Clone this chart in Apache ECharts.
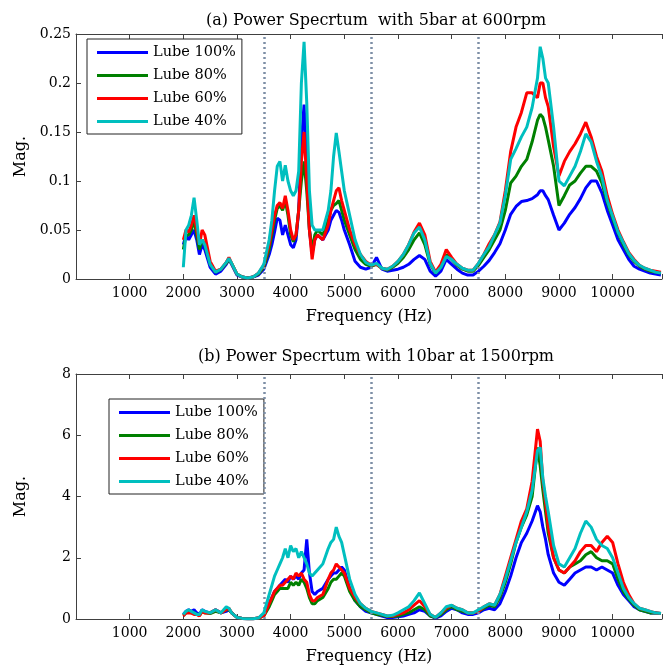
<!DOCTYPE html>
<html><head><meta charset="utf-8">
<script src="https://cdn.jsdelivr.net/npm/echarts@6/dist/echarts.min.js"></script>
<style>html,body{margin:0;padding:0;background:#fff}#c{width:665px;height:670px}</style>
</head><body><div id="c"></div>
<script>
const freq = [2000,2050,2100,2150,2200,2250,2300,2350,2400,
 2500,2600,2700,2800,2850,2900,
 3000,3100,3200,3300,3400,3500,
 3600,3650,3700,3750,3800,3850,3900,3950,4000,4050,4100,4150,4200,4250,4300,4350,4400,4450,4500,
 4600,4700,
 4750,4800,4850,4900,4950,5000,
 5100,5200,5300,5400,5500,5600,5700,5800,5900,6000,
 6100,6200,6300,6400,6500,6600,6700,6800,6900,7000,
 7100,7200,7300,7400,7500,7600,7700,7800,7900,8000,
 8100,8200,8300,8400,8500,8600,
 8650,8700,8750,8800,
 8900,9000,
 9100,9200,9300,9400,9500,9600,9700,9800,9900,10000,
 10100,10200,10300,10400,10500,10600,10700,10800,10900];

const seriesNames = ['Lube 100%','Lube 80%','Lube 60%','Lube 40%'];
const xTicks = [1000,2000,3000,4000,5000,6000,7000,8000,9000,10000];
const markFreqs = [3500,5500,7500];

// (a) 5bar at 600rpm
const a100 = [0.035,0.045,0.04,0.045,0.05,0.04,0.025,0.035,0.03,
 0.012,0.005,0.008,0.015,0.02,0.015,
 0.004,0.002,0.001,0.002,0.004,0.01,
 0.025,0.035,0.048,0.062,0.06,0.045,0.055,0.045,0.035,0.032,0.04,0.07,0.14,0.178,0.12,0.05,0.026,0.04,0.045,
 0.04,0.05,
 0.06,0.065,0.07,0.068,0.06,0.05,
 0.035,0.018,0.012,0.01,0.012,0.022,0.01,0.008,0.009,0.01,
 0.012,0.015,0.02,0.024,0.02,0.008,0.003,0.008,0.02,0.015,
 0.01,0.006,0.004,0.004,0.008,0.013,0.019,0.027,0.036,0.05,
 0.066,0.074,0.079,0.08,0.082,0.086,
 0.09,0.09,0.085,0.081,
 0.065,0.05,
 0.057,0.066,0.073,0.082,0.093,0.1,0.1,0.088,0.07,0.055,
 0.04,0.03,0.02,0.013,0.01,0.008,0.006,0.005,0.004];
const a80 = [0.03,0.045,0.045,0.05,0.06,0.045,0.03,0.04,0.035,
 0.015,0.007,0.01,0.016,0.02,0.016,
 0.005,0.002,0.001,0.002,0.005,0.012,
 0.03,0.045,0.06,0.072,0.075,0.07,0.08,0.065,0.045,0.038,0.045,0.07,0.1,0.12,0.09,0.05,0.03,0.045,0.05,
 0.045,0.06,
 0.07,0.075,0.077,0.08,0.07,0.06,
 0.045,0.03,0.02,0.015,0.013,0.015,0.011,0.009,0.012,0.016,
 0.022,0.03,0.04,0.047,0.035,0.015,0.006,0.012,0.025,0.02,
 0.014,0.01,0.008,0.008,0.014,0.022,0.03,0.04,0.05,0.07,
 0.098,0.105,0.115,0.122,0.14,0.162,
 0.168,0.165,0.155,0.142,
 0.115,0.075,
 0.085,0.096,0.1,0.108,0.115,0.115,0.11,0.098,0.078,0.062,
 0.047,0.035,0.025,0.018,0.013,0.01,0.008,0.007,0.006];
const a60 = [0.04,0.05,0.048,0.055,0.065,0.05,0.035,0.05,0.045,
 0.018,0.008,0.01,0.017,0.022,0.016,
 0.005,0.002,0.001,0.002,0.006,0.014,
 0.035,0.05,0.065,0.075,0.078,0.072,0.085,0.07,0.05,0.04,0.045,0.07,0.12,0.15,0.1,0.05,0.02,0.04,0.045,
 0.04,0.055,
 0.07,0.08,0.09,0.093,0.08,0.07,
 0.05,0.035,0.025,0.018,0.014,0.015,0.011,0.01,0.013,0.018,
 0.025,0.035,0.048,0.057,0.045,0.018,0.007,0.015,0.03,0.022,
 0.015,0.011,0.009,0.009,0.016,0.025,0.036,0.045,0.058,0.09,
 0.13,0.155,0.17,0.19,0.19,0.185,
 0.2,0.2,0.185,0.176,
 0.135,0.105,
 0.12,0.13,0.138,0.148,0.16,0.145,0.125,0.11,0.085,0.066,
 0.05,0.038,0.027,0.02,0.014,0.011,0.009,0.008,0.007];
const a40 = [0.012,0.05,0.055,0.065,0.083,0.06,0.035,0.04,0.035,
 0.015,0.007,0.01,0.017,0.021,0.016,
 0.005,0.002,0.001,0.002,0.006,0.015,
 0.04,0.06,0.09,0.115,0.12,0.1,0.116,0.1,0.09,0.085,0.09,0.11,0.2,0.242,0.18,0.09,0.055,0.05,0.05,
 0.05,0.07,
 0.09,0.125,0.149,0.13,0.11,0.09,
 0.065,0.04,0.025,0.017,0.014,0.016,0.011,0.01,0.013,0.018,
 0.025,0.035,0.047,0.053,0.04,0.016,0.006,0.012,0.023,0.02,
 0.015,0.011,0.009,0.009,0.016,0.025,0.033,0.045,0.057,0.085,
 0.122,0.133,0.145,0.155,0.175,0.205,
 0.237,0.225,0.205,0.2,
 0.155,0.1,
 0.095,0.105,0.115,0.13,0.148,0.14,0.12,0.104,0.08,0.064,
 0.048,0.037,0.026,0.019,0.014,0.011,0.009,0.007,0.006];

// (b) 10bar at 1500rpm
const b100 = [0.15,0.25,0.3,0.25,0.3,0.2,0.15,0.3,0.25,
 0.2,0.3,0.2,0.25,0.3,0.2,
 0.05,0.02,0.01,0.01,0.03,0.15,
 0.5,0.7,0.9,1.0,1.1,1.2,1.3,1.2,1.4,1.3,1.4,1.3,1.5,1.6,2.6,1.5,0.9,0.8,0.9,
 1.0,1.3,
 1.4,1.5,1.5,1.6,1.7,1.6,
 1.0,0.6,0.4,0.25,0.2,0.15,0.1,0.05,0.05,0.07,
 0.1,0.15,0.2,0.3,0.25,0.1,0.03,0.1,0.25,0.35,
 0.3,0.2,0.15,0.15,0.2,0.3,0.35,0.3,0.5,0.9,
 1.4,2.0,2.5,2.8,3.2,3.7,
 3.5,3.0,2.6,2.1,
 1.5,1.2,
 1.1,1.3,1.5,1.6,1.7,1.7,1.6,1.7,1.6,1.5,
 1.1,0.8,0.6,0.4,0.3,0.25,0.2,0.2,0.18];
const b80 = [0.12,0.2,0.25,0.2,0.2,0.15,0.12,0.25,0.2,
 0.18,0.25,0.2,0.3,0.3,0.2,
 0.05,0.02,0.01,0.01,0.03,0.1,
 0.4,0.6,0.8,0.9,1.0,1.0,1.0,1.0,1.2,1.1,1.2,1.1,1.3,1.2,1.0,0.7,0.5,0.5,0.6,
 0.7,1.0,
 1.2,1.3,1.3,1.4,1.5,1.4,
 0.9,0.6,0.4,0.3,0.2,0.15,0.12,0.08,0.08,0.1,
 0.15,0.2,0.3,0.4,0.3,0.1,0.05,0.15,0.3,0.4,
 0.3,0.25,0.2,0.2,0.25,0.35,0.45,0.4,0.7,1.2,
 1.8,2.5,3.0,3.4,4.0,5.6,
 5.0,4.2,3.5,2.8,
 2.0,1.6,
 1.5,1.7,1.8,1.9,2.1,2.2,2.0,1.9,1.9,1.8,
 1.3,0.9,0.65,0.45,0.3,0.25,0.2,0.2,0.18];
const b60 = [0.1,0.2,0.2,0.2,0.15,0.15,0.1,0.25,0.2,
 0.2,0.3,0.2,0.3,0.35,0.2,
 0.05,0.02,0.01,0.01,0.03,0.1,
 0.5,0.7,0.9,1.0,1.1,1.1,1.2,1.3,1.4,1.3,1.5,1.4,1.5,1.3,1.2,0.8,0.6,0.6,0.7,
 0.8,1.3,
 1.5,1.6,1.8,1.7,1.6,1.5,
 1.0,0.7,0.5,0.35,0.25,0.2,0.15,0.1,0.1,0.15,
 0.2,0.3,0.45,0.6,0.4,0.15,0.05,0.2,0.35,0.45,
 0.35,0.3,0.2,0.2,0.25,0.4,0.5,0.45,0.8,1.4,
 2.0,2.6,3.2,3.6,4.5,6.2,
 5.8,4.5,3.8,3.0,
 2.0,1.6,
 1.5,1.7,1.9,2.2,2.4,2.4,2.2,2.5,2.7,2.5,
 1.8,1.2,0.8,0.5,0.35,0.3,0.25,0.2,0.18];
const b40 = [0.15,0.25,0.3,0.25,0.2,0.15,0.15,0.3,0.25,
 0.2,0.3,0.2,0.4,0.35,0.2,
 0.05,0.02,0.01,0.01,0.03,0.2,
 0.8,1.1,1.4,1.6,1.8,2.0,2.3,2.0,2.4,2.2,2.3,2.0,2.2,2.0,1.8,1.5,1.4,1.5,1.6,
 1.8,2.3,
 2.5,2.6,3.0,2.7,2.5,2.1,
 1.3,0.8,0.5,0.35,0.25,0.2,0.15,0.1,0.12,0.2,
 0.3,0.4,0.6,0.85,0.5,0.15,0.05,0.2,0.4,0.45,
 0.35,0.3,0.2,0.2,0.3,0.4,0.5,0.45,0.8,1.3,
 1.9,2.5,3.0,3.5,4.2,5.5,
 5.6,4.6,4.0,3.5,
 2.4,1.8,
 1.7,2.0,2.3,2.8,3.2,3.0,2.6,2.4,2.3,2.0,
 1.5,1.0,0.7,0.5,0.35,0.3,0.25,0.2,0.18];

const colors = ['#0000ff','#008000','#ff0000','#00bfbf'];
const FONT = 'DejaVu Serif';
const AX = '#404040';

function pairs(vals){ return freq.map((f,i)=>[f, vals[i]]); }

const chart = echarts.init(document.getElementById('c'), null, {renderer:'canvas'});

function xAxes(gi){
  return [{
    type:'value', gridIndex:gi, min:0, max:10920, interval:1000, position:'bottom',
    name:'Frequency (Hz)', nameLocation:'middle', nameGap:30,
    nameTextStyle:{fontFamily:FONT, fontSize:16, color:'#000'},
    axisLine:{show:true, lineStyle:{color:AX, width:1}},
    axisTick:{show:true, inside:true, length:5, lineStyle:{color:AX}},
    axisLabel:{fontFamily:FONT, fontSize:14, color:'#000', margin:7,
      formatter:v => (xTicks.indexOf(v) >= 0 ? String(v) : '')},
    splitLine:{show:false}
  },{
    type:'value', gridIndex:gi, min:0, max:10920, interval:1000, position:'top',
    axisLine:{show:true, lineStyle:{color:AX, width:1}},
    axisTick:{show:true, inside:true, length:5, lineStyle:{color:AX}},
    axisLabel:{show:false}, splitLine:{show:false}
  }];
}
function yAxis(gi, max, interval){
  return {
    type:'value', gridIndex:gi, min:0, max:max, interval:interval,
    name:'Mag.', nameLocation:'middle', nameGap:47, nameRotate:90,
    nameTextStyle:{fontFamily:FONT, fontSize:16, color:'#000'},
    axisLine:{show:true, lineStyle:{color:AX, width:1}},
    axisTick:{show:true, inside:true, length:5, lineStyle:{color:AX}},
    axisLabel:{fontFamily:FONT, fontSize:14, color:'#000', margin:5},
    splitLine:{show:false}
  };
}

const groups = [[a100,a80,a60,a40],[b100,b80,b60,b40]];
const series = [];
groups.forEach((g,gi)=>{
  g.forEach((vals,si)=>{
    const s = {
      type:'line', name:seriesNames[si], xAxisIndex:gi*2, yAxisIndex:gi,
      data:pairs(vals), showSymbol:false, symbol:'none',
      lineStyle:{color:colors[si], width:3}, itemStyle:{color:colors[si]},
      animation:false, z:2+si
    };
    if(si===0){
      s.markLine = {silent:true, symbol:'none', label:{show:false}, animation:false,
        lineStyle:{color:'#7d8fa6', type:[2,3], width:2.5},
        data: markFreqs.map(f=>({xAxis:f}))};
    }
    series.push(s);
  });
});

const legendBase = {
  orient:'vertical', data:seriesNames, icon:'rect', itemWidth:51, itemHeight:3,
  itemGap:6, padding:[5,6,4,10], backgroundColor:'#fff',
  borderColor:'#222', borderWidth:1, borderRadius:0,
  textStyle:{fontFamily:FONT, fontSize:14.5, color:'#000', lineHeight:17},
  selectedMode:false
};

chart.setOption({
  animation:false,
  backgroundColor:'#fff',
  title:[
    {text:'(a) Power Specrtum  with 5bar at 600rpm', left:371, textAlign:'center', top:8,
     textStyle:{fontFamily:FONT, fontSize:16, fontWeight:'normal', color:'#000'}},
    {text:'(b) Power Specrtum with 10bar at 1500rpm', left:371, textAlign:'center', top:344,
     textStyle:{fontFamily:FONT, fontSize:16, fontWeight:'normal', color:'#000'}}
  ],
  legend:[
    Object.assign({}, legendBase, {left:87, top:39}),
    Object.assign({}, legendBase, {left:109, top:399})
  ],
  grid:[
    {left:76, top:34, width:592, height:245},
    {left:76, top:374, width:592, height:245}
  ],
  xAxis:[...xAxes(0), ...xAxes(1)],
  yAxis:[yAxis(0,0.25,0.05), yAxis(1,8,2)],
  series:series
});
</script>
</body></html>
